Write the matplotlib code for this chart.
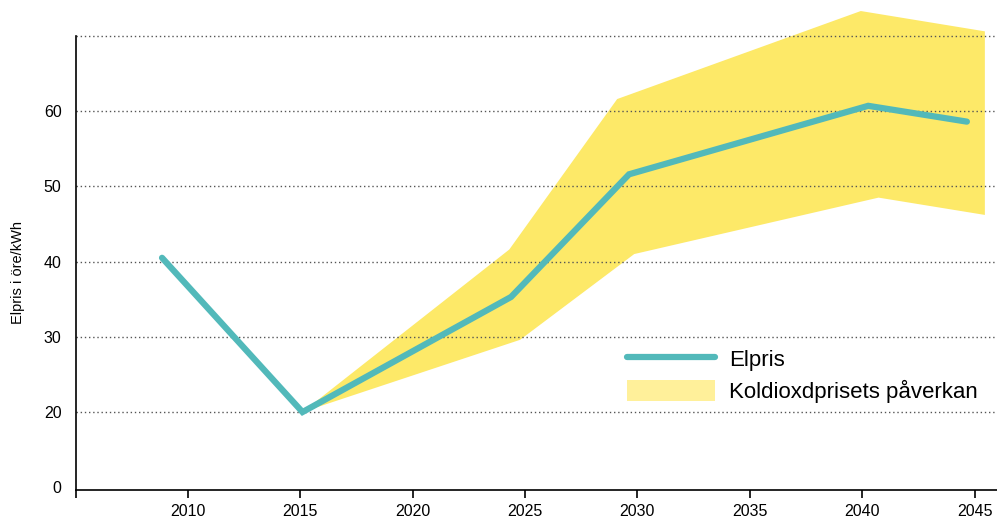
import matplotlib
matplotlib.use("Agg")
import matplotlib.pyplot as plt
from matplotlib.lines import Line2D
from matplotlib.patches import Patch

plt.rcParams['font.family'] = ['Liberation Sans', 'DejaVu Sans']

# Data
line_years = [2008.85, 2015.1, 2024.38, 2029.63, 2040.27, 2044.66]
line_values = [40.5, 20.0, 35.3, 51.6, 60.7, 58.6]

band_upper_years = [2015.1, 2024.3, 2029.1, 2039.94, 2045.46]
band_upper_values = [20.0, 41.6, 61.6, 73.3, 70.6]
band_lower_years = [2015.1, 2024.78, 2029.86, 2040.73, 2045.46]
band_lower_values = [20.0, 29.6, 41.0, 48.5, 46.2]

ytick_pos = [10, 20, 30, 40, 50, 60]
ytick_labels = ["0", "20", "30", "40", "50", "60"]
grid_vals = [20, 30, 40, 50, 60, 70]
xtick_pos = [2005, 2010, 2015, 2020, 2025, 2030, 2035, 2040, 2045]
xtick_labels = ["", "2010", "2015", "2020", "2025", "2030", "2035", "2040", "2045"]
legend_labels = ["Elpris", "Koldioxdprisets påverkan"]

line_color = "#52B9BA"
band_color = "#FDE968"
legend_band_color = "#FFF09A"

W, H = 997, 521
fig = plt.figure(figsize=(W / 100, H / 100), dpi=100)
ax_w = 1 - 75.5 / W
ax_h = (490 - 2) / H
ax = fig.add_axes([75.5 / W, 31 / H, ax_w, ax_h])

poly_x = list(band_upper_years) + list(reversed(band_lower_years))
poly_y = list(band_upper_values) + list(reversed(band_lower_values))
ax.fill(poly_x, poly_y, color=band_color, lw=0, zorder=1)

for g in grid_vals:
    ax.axhline(g, color="#555555", lw=1.0, ls=(0, (1, 2)), zorder=2)

ax.plot(line_years, line_values, color=line_color, lw=4.5, solid_capstyle="round",
        solid_joinstyle="miter", zorder=3)

ax.set_xlim(2005, 2046.0)
ax.set_ylim(9.64, 74.5)

for s in ["top", "right"]:
    ax.spines[s].set_visible(False)
ax.spines["left"].set_bounds(9.64, 70)
ax.spines["left"].set_linewidth(1.2)
ax.spines["bottom"].set_linewidth(1.2)

ax.set_xticks(xtick_pos)
ax.set_xticklabels(xtick_labels, fontsize=11.5)
ax.set_yticks(ytick_pos)
ax.set_yticklabels(ytick_labels, fontsize=11.5)
ax.tick_params(axis="x", direction="out", length=6, width=1.2, pad=4)
ax.tick_params(axis="y", length=0, pad=10)

ax.set_ylabel("Elpris i öre/kWh", fontsize=10.5)
ax.yaxis.set_label_coords(-(75.5 - 25) / W / ax_w, 0.445)

handles = [Line2D([0], [0], color=line_color, lw=4.5, solid_capstyle="round"),
           Patch(facecolor=legend_band_color, edgecolor="none")]
leg = ax.legend(handles, legend_labels, loc="upper left",
                bbox_to_anchor=((627 - 75.5) / (W - 75.5), (490 - 348) / 488),
                frameon=False, fontsize=16, handlelength=3.95, handleheight=1.05,
                handletextpad=0.65, labelspacing=0.4, borderaxespad=0, borderpad=0)

fig.savefig("out.png", dpi=100)
